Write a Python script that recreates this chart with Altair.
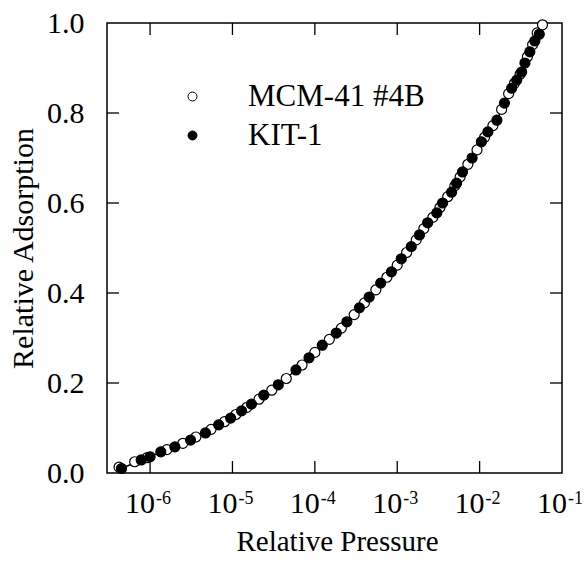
import altair as alt
import pandas as pd

# ---- data ----
series_names = ["MCM-41 #4B", "KIT-1"]

mcm_p = [4.2e-7, 6.5e-7, 9.2e-7, 1.6e-6, 2.5e-6, 3.6e-6, 5.5e-6, 8.0e-6, 1.1e-5, 1.5e-5,
         2.1e-5, 3.0e-5, 4.5e-5, 7.0e-5, 1.0e-4, 1.5e-4, 2.1e-4, 3.0e-4, 4.0e-4, 5.5e-4,
         7.5e-4, 1.0e-3, 1.3e-3, 1.7e-3, 2.1e-3, 2.7e-3, 3.3e-3, 4.1e-3, 5.0e-3, 5.8e-3,
         7.2e-3, 9.3e-3, 1.15e-2, 1.45e-2, 1.85e-2, 2.25e-2, 2.65e-2, 3.1e-2, 3.8e-2, 4.4e-2,
         5.0e-2, 5.8e-2]
mcm_a = [0.013, 0.025, 0.034, 0.052, 0.066, 0.080, 0.097, 0.114, 0.130, 0.146,
         0.164, 0.184, 0.210, 0.240, 0.268, 0.297, 0.322, 0.352, 0.378, 0.407,
         0.435, 0.462, 0.490, 0.518, 0.543, 0.568, 0.590, 0.614, 0.638, 0.658,
         0.686, 0.718, 0.746, 0.772, 0.808, 0.843, 0.866, 0.886, 0.925, 0.952,
         0.978, 0.996]

kit_p = [4.5e-7, 7.8e-7, 1.0e-6, 1.35e-6, 2.0e-6, 3.1e-6, 4.7e-6, 6.8e-6, 9.5e-6, 1.29e-5,
         1.7e-5, 2.4e-5, 3.6e-5, 5.9e-5, 8.5e-5, 1.23e-4, 1.82e-4, 2.45e-4, 3.47e-4, 4.57e-4,
         6.3e-4, 8.5e-4, 1.12e-3, 1.48e-3, 1.86e-3, 2.34e-3, 3.02e-3, 3.55e-3, 4.57e-3, 5.25e-3,
         6.2e-3, 8.1e-3, 1.05e-2, 1.26e-2, 1.62e-2, 2.0e-2, 2.45e-2, 2.82e-2, 3.24e-2, 3.55e-2,
         4.07e-2, 4.68e-2, 5.3e-2]
kit_a = [0.010, 0.029, 0.036, 0.047, 0.058, 0.073, 0.089, 0.107, 0.122, 0.138,
         0.153, 0.173, 0.196, 0.229, 0.256, 0.284, 0.311, 0.336, 0.367, 0.391,
         0.422, 0.447, 0.476, 0.503, 0.529, 0.556, 0.578, 0.600, 0.624, 0.644,
         0.669, 0.700, 0.736, 0.758, 0.784, 0.822, 0.855, 0.873, 0.891, 0.911,
         0.936, 0.960, 0.975]

x_tick_vals = [1e-6, 1e-5, 1e-4, 1e-3, 1e-2, 1e-1]
x_tick_exps = ["-6", "-5", "-4", "-3", "-2", "-1"]
y_label_vals = [0.0, 0.2, 0.4, 0.6, 0.8, 1.0]
y_tick_vals = [0.2, 0.4, 0.6, 0.8]

# ---- tables ----
pts = pd.concat([
    pd.DataFrame({"p": mcm_p, "a": mcm_a, "series": series_names[0], "ord": 0}),
    pd.DataFrame({"p": kit_p, "a": kit_a, "series": series_names[1], "ord": 1}),
], ignore_index=True)
kit_df = pd.DataFrame({"p": kit_p, "a": kit_a})
xt = pd.DataFrame({"p": x_tick_vals, "base": ["10"] * len(x_tick_vals), "exp": x_tick_exps})
xt_in = xt[xt["p"] < 0.1]
yt = pd.DataFrame({"a": y_tick_vals})

W, H = 455, 450
FONT = "Liberation Serif, Times New Roman, Times, serif"
xscale = alt.Scale(type="log", domain=[3.0e-7, 0.1])
yscale = alt.Scale(domain=[0, 1])

x_axis = alt.Axis(
    labels=False, ticks=False, domain=False, grid=False,
    title="Relative Pressure", titleFont=FONT, titleFontSize=29, titleFontWeight="normal",
    titleColor="black", titleX=230, titleY=77, titleAlign="center", titleBaseline="alphabetic")
y_axis = alt.Axis(
    values=y_label_vals, format=".1f", ticks=False, domain=False, grid=False,
    labelFont=FONT, labelFontSize=30, labelColor="black", labelPadding=23,
    title="Relative Adsorption", titleFont=FONT, titleFontSize=30, titleFontWeight="normal",
    titleColor="black", titleAngle=-90, titleX=-84, titleY=225, titleAlign="center",
    titleBaseline="middle")

X = alt.X("p:Q", scale=xscale, axis=x_axis)
Y = alt.Y("a:Q", scale=yscale, axis=y_axis)

line = alt.Chart(kit_df).mark_line(color="black", strokeWidth=1.5).encode(x=X, y=Y)

points = alt.Chart(pts).mark_point(filled=True, size=100, stroke="black", strokeWidth=1.2, opacity=1).encode(
    x=X,
    y=Y,
    fill=alt.Fill("series:N", scale=alt.Scale(domain=series_names, range=["white", "black"]),
                  legend=alt.Legend(title=None, orient="none", legendX=70, legendY=58,
                                    labelFont=FONT, labelFontSize=31, labelColor="black",
                                    symbolType="circle", symbolSize=80, symbolStrokeColor="black",
                                    symbolStrokeWidth=1, labelOffset=40, rowPadding=7,
                                    labelLimit=400, padding=0)),
    order=alt.Order("ord:Q"),
)

tick_bottom = alt.Chart(xt_in).mark_rule(color="black", strokeWidth=1.3).encode(
    x=X, y=alt.value(H), y2=alt.value(H - 12))
tick_top = alt.Chart(xt_in).mark_rule(color="black", strokeWidth=1.3).encode(
    x=X, y=alt.value(0), y2=alt.value(12))
tick_left = alt.Chart(yt).mark_rule(color="black", strokeWidth=1.3).encode(
    y=Y, x=alt.value(0), x2=alt.value(12))
tick_right = alt.Chart(yt).mark_rule(color="black", strokeWidth=1.3).encode(
    y=Y, x=alt.value(W), x2=alt.value(W - 12))

lab_base = alt.Chart(xt).mark_text(align="right", baseline="alphabetic", dx=5, font=FONT,
                                   fontSize=30, color="black").encode(
    x=X, y=alt.value(H + 40), text="base:N")
lab_exp = alt.Chart(xt).mark_text(align="left", baseline="alphabetic", dx=6, font=FONT,
                                  fontSize=18, color="black").encode(
    x=X, y=alt.value(H + 31), text="exp:N")

chart = alt.layer(line, points, tick_bottom, tick_top, tick_left, tick_right, lab_base, lab_exp).properties(
    width=W, height=H,
    padding={"left": 107, "top": 23, "right": 23, "bottom": 90},
    autosize=alt.AutoSizeParams(type="none"),
    background="white",
).configure_view(stroke="black", strokeWidth=1.5)

chart.save("out.html", embed_options={"renderer": "svg", "actions": False})
